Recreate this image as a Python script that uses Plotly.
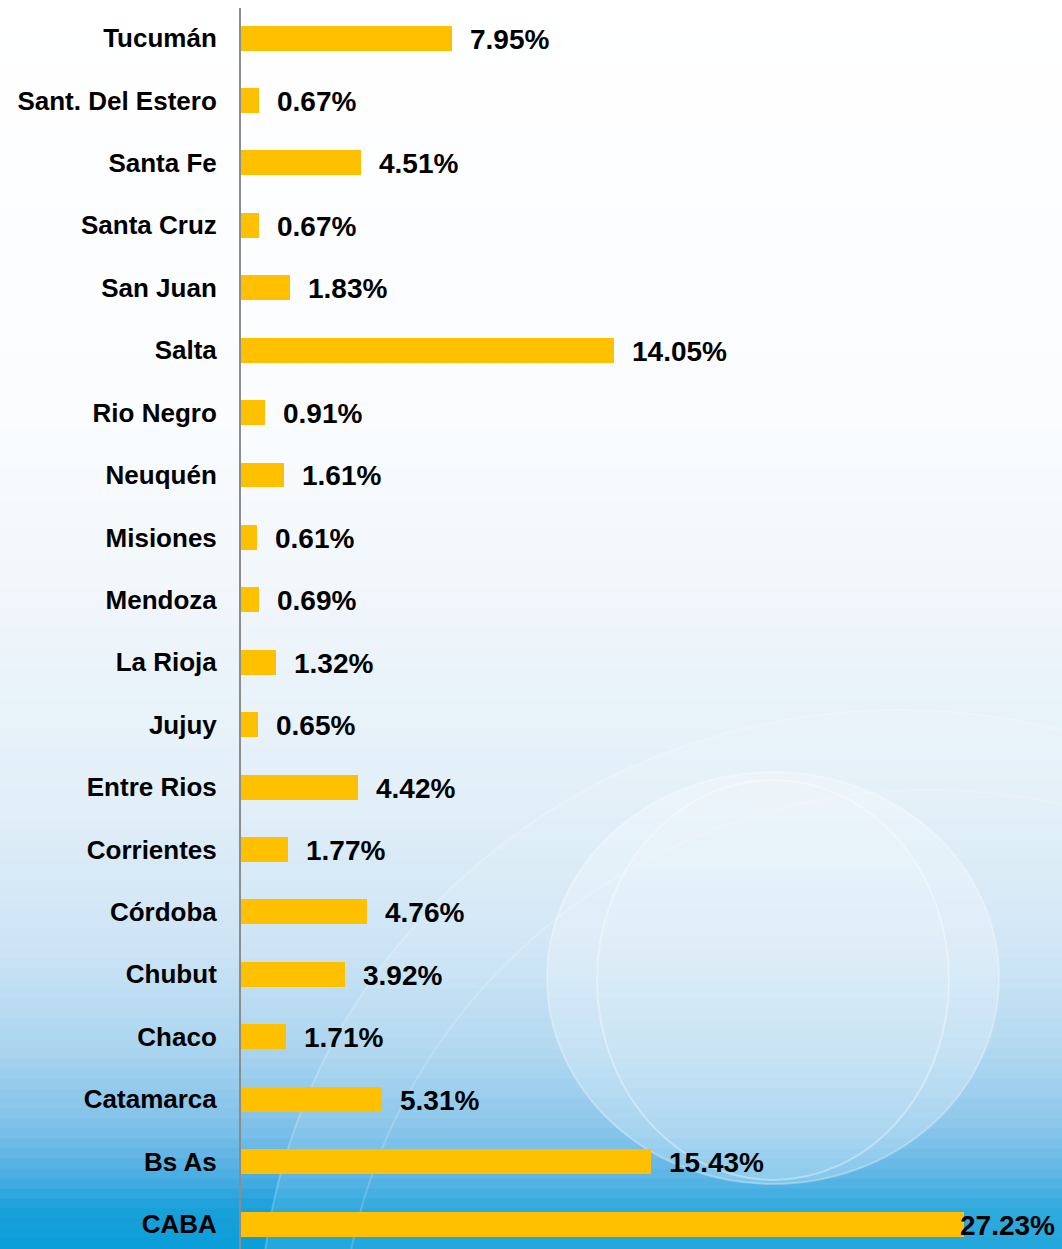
import numpy as np
import plotly.graph_objects as go

categories = ["CABA", "Bs As", "Catamarca", "Chaco", "Chubut", "Córdoba", "Corrientes",
              "Entre Rios", "Jujuy", "La Rioja", "Mendoza", "Misiones", "Neuquén",
              "Rio Negro", "Salta", "San Juan", "Santa Cruz", "Santa Fe",
              "Sant. Del Estero", "Tucumán"]
values = [27.23, 15.43, 5.31, 1.71, 3.92, 4.76, 1.77, 4.42, 0.65, 1.32, 0.69, 0.61,
          1.61, 0.91, 14.05, 1.83, 0.67, 4.51, 0.67, 7.95]
labels = [f"{v:.2f}%" for v in values]

W, H = 1062, 1249
L, R, T, B = 241, 12, 8, 0
pw, ph = W - L - R, H - T - B

def px2paper(x, y):
    return (x - L) / pw, (H - B - y) / ph

fig = go.Figure()
fig.add_trace(go.Bar(
    x=values, y=categories, orientation="h",
    marker=dict(color="#FFC000", line=dict(width=0)),
    width=0.40, hoverinfo="skip",
))

# background gradient strips
stops_y = [0, 420, 600, 800, 950, 1050, 1130, 1180, 1210, 1249]
stops_c = [(255, 255, 255), (250, 252, 254), (240, 246, 251), (226, 239, 248),
           (204, 228, 245), (170, 212, 239), (125, 192, 233), (70, 172, 226),
           (25, 160, 218), (10, 158, 216)]
shapes = []
n = 125
edges = np.linspace(0, H, n + 1)
for i in range(n):
    ymid = (edges[i] + edges[i + 1]) / 2
    c = [int(round(np.interp(ymid, stops_y, [s[k] for s in stops_c]))) for k in range(3)]
    x0, y0 = px2paper(0, edges[i + 1] + 0.5)
    x1, y1 = px2paper(W, edges[i] - 0.5)
    shapes.append(dict(type="rect", xref="paper", yref="paper", x0=x0, x1=x1, y0=y0, y1=y1,
                       fillcolor=f"rgb({c[0]},{c[1]},{c[2]})", line=dict(width=0), layer="below"))

def circ(cx, cy, rx, ry, fill, line, lw):
    x0, y0 = px2paper(cx - rx, cy + ry)
    x1, y1 = px2paper(cx + rx, cy - ry)
    return dict(type="circle", xref="paper", yref="paper", x0=x0, x1=x1, y0=y0, y1=y1,
                fillcolor=fill, line=dict(color=line, width=lw), layer="below")

shapes.append(circ(900, 1330, 640, 620, "rgba(255,255,255,0.10)", "rgba(255,255,255,0.22)", 2))
shapes.append(circ(930, 1360, 590, 570, "rgba(0,0,0,0)", "rgba(255,255,255,0.18)", 2))
shapes.append(circ(773, 978, 226, 206, "rgba(255,255,255,0.25)", "rgba(255,255,255,0.30)", 2))
shapes.append(circ(773, 980, 176, 200, "rgba(255,255,255,0.08)", "rgba(255,255,255,0.35)", 2))

annotations = []
vmax = max(values)
fnt = dict(family="Liberation Sans, Arial", size=28, color="black", weight="bold")
for cat, v, t in zip(categories, values, labels):
    if v == vmax:
        annotations.append(dict(x=1, xref="paper", y=cat, yref="y", text=t, showarrow=False,
                                xanchor="right", xshift=7, yshift=-1, font=fnt))
    else:
        annotations.append(dict(x=v, xref="x", y=cat, yref="y", text=t, showarrow=False,
                                xanchor="left", xshift=16, yshift=-1, font=fnt))

fig.update_layout(
    width=W, height=H,
    margin=dict(l=L, r=R, t=T, b=B, pad=0),
    paper_bgcolor="white", plot_bgcolor="rgba(0,0,0,0)",
    showlegend=False, bargap=0,
    shapes=shapes, annotations=annotations,
    xaxis=dict(range=[0, pw / 26.54], visible=False, fixedrange=True),
    yaxis=dict(type="category", categoryorder="array", categoryarray=categories,
               range=[-0.40, -0.40 + ph / 62.42],
               showline=True, linecolor="#8c8c8c", linewidth=2, showgrid=False,
               ticks="", ticklabelstandoff=17, zeroline=False, fixedrange=True,
               tickfont=dict(family="Liberation Sans, Arial", size=26, color="black", weight="bold")),
)
fig.write_html("out.html", config={"displayModeBar": False},
               post_script="document.body.style.margin='0';")
